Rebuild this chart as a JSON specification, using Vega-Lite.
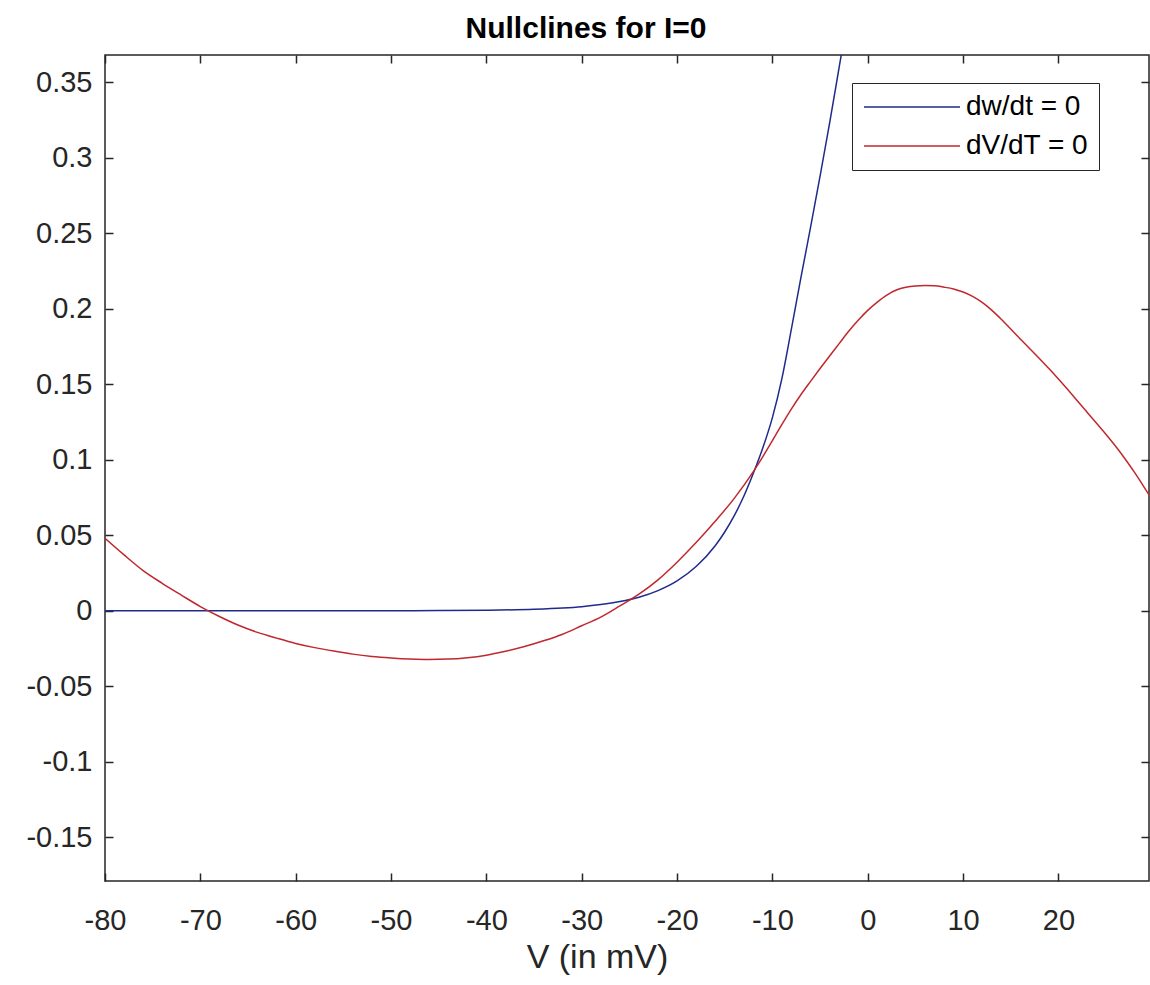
{
  "$schema": "https://vega.github.io/schema/vega-lite/v6.json",
  "width": 1044,
  "height": 826,
  "autosize": "none",
  "padding": {"left": 105, "top": 55, "right": 1, "bottom": 104},
  "background": "white",
  "title": {"text": "Nullclines for I=0", "fontSize": 30, "fontWeight": "bold", "font": "Liberation Sans", "color": "#000000", "anchor": "middle", "dx": -41, "baseline": "alphabetic", "offset": -14},
  "config": {
    "view": {"stroke": "#262626", "strokeWidth": 1.5},
    "axis": {"domain": false, "grid": false, "ticks": true, "tickSize": -8, "tickColor": "#262626", "tickWidth": 1.5, "labelFont": "Liberation Sans", "labelFontSize": 29, "labelColor": "#262626", "labelFlush": false, "titleFont": "Liberation Sans", "titleFontSize": 34, "titleFontWeight": "normal", "titleColor": "#262626"}
  },
  "data": {"values": [
    {"series": "dw/dt = 0", "V": -80, "w": 0},
    {"series": "dw/dt = 0", "V": -75, "w": 0},
    {"series": "dw/dt = 0", "V": -70, "w": 0},
    {"series": "dw/dt = 0", "V": -65, "w": 0},
    {"series": "dw/dt = 0", "V": -60, "w": 0.00001},
    {"series": "dw/dt = 0", "V": -55, "w": 0.00002},
    {"series": "dw/dt = 0", "V": -50, "w": 0.00005},
    {"series": "dw/dt = 0", "V": -45, "w": 0.00014},
    {"series": "dw/dt = 0", "V": -40, "w": 0.00037},
    {"series": "dw/dt = 0", "V": -35, "w": 0.001},
    {"series": "dw/dt = 0", "V": -32, "w": 0.0018},
    {"series": "dw/dt = 0", "V": -30, "w": 0.0027},
    {"series": "dw/dt = 0", "V": -28, "w": 0.0041},
    {"series": "dw/dt = 0", "V": -26, "w": 0.0061},
    {"series": "dw/dt = 0", "V": -24, "w": 0.009},
    {"series": "dw/dt = 0", "V": -22, "w": 0.0134},
    {"series": "dw/dt = 0", "V": -20, "w": 0.0198},
    {"series": "dw/dt = 0", "V": -18, "w": 0.0293},
    {"series": "dw/dt = 0", "V": -16, "w": 0.0431},
    {"series": "dw/dt = 0", "V": -15, "w": 0.0522},
    {"series": "dw/dt = 0", "V": -14, "w": 0.063},
    {"series": "dw/dt = 0", "V": -13, "w": 0.0759},
    {"series": "dw/dt = 0", "V": -12, "w": 0.0911},
    {"series": "dw/dt = 0", "V": -11, "w": 0.108},
    {"series": "dw/dt = 0", "V": -10, "w": 0.128},
    {"series": "dw/dt = 0", "V": -9, "w": 0.154},
    {"series": "dw/dt = 0", "V": -8, "w": 0.187},
    {"series": "dw/dt = 0", "V": -7, "w": 0.221},
    {"series": "dw/dt = 0", "V": -6, "w": 0.254},
    {"series": "dw/dt = 0", "V": -5, "w": 0.288},
    {"series": "dw/dt = 0", "V": -4, "w": 0.323},
    {"series": "dw/dt = 0", "V": -3, "w": 0.36},
    {"series": "dw/dt = 0", "V": -2, "w": 0.397},
    {"series": "dV/dT = 0", "V": -80, "w": 0.048},
    {"series": "dV/dT = 0", "V": -78, "w": 0.037},
    {"series": "dV/dT = 0", "V": -76, "w": 0.0266},
    {"series": "dV/dT = 0", "V": -74, "w": 0.0182},
    {"series": "dV/dT = 0", "V": -72, "w": 0.0104},
    {"series": "dV/dT = 0", "V": -70, "w": 0.0028},
    {"series": "dV/dT = 0", "V": -68, "w": -0.0038},
    {"series": "dV/dT = 0", "V": -66, "w": -0.0096},
    {"series": "dV/dT = 0", "V": -64, "w": -0.0143},
    {"series": "dV/dT = 0", "V": -62, "w": -0.0181},
    {"series": "dV/dT = 0", "V": -60, "w": -0.0216},
    {"series": "dV/dT = 0", "V": -58, "w": -0.0244},
    {"series": "dV/dT = 0", "V": -56, "w": -0.0267},
    {"series": "dV/dT = 0", "V": -54, "w": -0.0287},
    {"series": "dV/dT = 0", "V": -52, "w": -0.0302},
    {"series": "dV/dT = 0", "V": -50, "w": -0.0312},
    {"series": "dV/dT = 0", "V": -48, "w": -0.0319},
    {"series": "dV/dT = 0", "V": -46, "w": -0.0322},
    {"series": "dV/dT = 0", "V": -44, "w": -0.032},
    {"series": "dV/dT = 0", "V": -42, "w": -0.0311},
    {"series": "dV/dT = 0", "V": -40, "w": -0.0294},
    {"series": "dV/dT = 0", "V": -38, "w": -0.0268},
    {"series": "dV/dT = 0", "V": -36, "w": -0.0237},
    {"series": "dV/dT = 0", "V": -34, "w": -0.0199},
    {"series": "dV/dT = 0", "V": -32, "w": -0.0155},
    {"series": "dV/dT = 0", "V": -30, "w": -0.0099},
    {"series": "dV/dT = 0", "V": -28, "w": -0.0042},
    {"series": "dV/dT = 0", "V": -26, "w": 0.0032},
    {"series": "dV/dT = 0", "V": -24, "w": 0.011},
    {"series": "dV/dT = 0", "V": -22, "w": 0.0205},
    {"series": "dV/dT = 0", "V": -20, "w": 0.0322},
    {"series": "dV/dT = 0", "V": -18, "w": 0.0452},
    {"series": "dV/dT = 0", "V": -16, "w": 0.0593},
    {"series": "dV/dT = 0", "V": -14, "w": 0.0745},
    {"series": "dV/dT = 0", "V": -12, "w": 0.0922},
    {"series": "dV/dT = 0", "V": -11, "w": 0.1022},
    {"series": "dV/dT = 0", "V": -10, "w": 0.1128},
    {"series": "dV/dT = 0", "V": -9, "w": 0.1235},
    {"series": "dV/dT = 0", "V": -8, "w": 0.1338},
    {"series": "dV/dT = 0", "V": -7, "w": 0.1433},
    {"series": "dV/dT = 0", "V": -6, "w": 0.152},
    {"series": "dV/dT = 0", "V": -5, "w": 0.1605},
    {"series": "dV/dT = 0", "V": -4, "w": 0.1688},
    {"series": "dV/dT = 0", "V": -3, "w": 0.177},
    {"series": "dV/dT = 0", "V": -2, "w": 0.1852},
    {"series": "dV/dT = 0", "V": -1, "w": 0.1925},
    {"series": "dV/dT = 0", "V": 0, "w": 0.199},
    {"series": "dV/dT = 0", "V": 1, "w": 0.2045},
    {"series": "dV/dT = 0", "V": 2, "w": 0.2092},
    {"series": "dV/dT = 0", "V": 3, "w": 0.2125},
    {"series": "dV/dT = 0", "V": 4, "w": 0.2143},
    {"series": "dV/dT = 0", "V": 5, "w": 0.2152},
    {"series": "dV/dT = 0", "V": 6, "w": 0.2155},
    {"series": "dV/dT = 0", "V": 7, "w": 0.2153},
    {"series": "dV/dT = 0", "V": 8, "w": 0.2144},
    {"series": "dV/dT = 0", "V": 9, "w": 0.2132},
    {"series": "dV/dT = 0", "V": 10, "w": 0.2112},
    {"series": "dV/dT = 0", "V": 11, "w": 0.2083},
    {"series": "dV/dT = 0", "V": 12, "w": 0.2043},
    {"series": "dV/dT = 0", "V": 13, "w": 0.1992},
    {"series": "dV/dT = 0", "V": 14, "w": 0.1932},
    {"series": "dV/dT = 0", "V": 15, "w": 0.1867},
    {"series": "dV/dT = 0", "V": 16, "w": 0.1801},
    {"series": "dV/dT = 0", "V": 17, "w": 0.1736},
    {"series": "dV/dT = 0", "V": 18, "w": 0.1671},
    {"series": "dV/dT = 0", "V": 19, "w": 0.1605},
    {"series": "dV/dT = 0", "V": 20, "w": 0.1536},
    {"series": "dV/dT = 0", "V": 21, "w": 0.1464},
    {"series": "dV/dT = 0", "V": 22, "w": 0.139},
    {"series": "dV/dT = 0", "V": 23, "w": 0.1316},
    {"series": "dV/dT = 0", "V": 24, "w": 0.1242},
    {"series": "dV/dT = 0", "V": 25, "w": 0.1168},
    {"series": "dV/dT = 0", "V": 26, "w": 0.109},
    {"series": "dV/dT = 0", "V": 27, "w": 0.1006},
    {"series": "dV/dT = 0", "V": 28, "w": 0.0915},
    {"series": "dV/dT = 0", "V": 29, "w": 0.0818},
    {"series": "dV/dT = 0", "V": 29.5, "w": 0.0768}
  ]},
  "resolve": {"axis": {"x": "independent", "y": "independent"}},
  "layer": [
    {
      "mark": {"type": "line", "clip": true, "strokeWidth": 1.5, "interpolate": "monotone"},
      "encoding": {
        "x": {"field": "V", "type": "quantitative", "scale": {"domain": [-80, 29.5], "nice": false, "zero": false},
              "axis": {"orient": "bottom", "values": [-80, -70, -60, -50, -40, -30, -20, -10, 0, 10, 20], "labelExpr": "'' + datum.value", "labelPadding": 33, "title": "V (in mV)", "titleX": 492, "titleY": 86, "titleAlign": "center", "titleBaseline": "alphabetic"}},
        "y": {"field": "w", "type": "quantitative", "scale": {"domain": [-0.179, 0.3682], "nice": false, "zero": false},
              "axis": {"orient": "left", "values": [-0.15, -0.1, -0.05, 0, 0.05, 0.1, 0.15, 0.2, 0.25, 0.3, 0.35], "labelExpr": "'' + datum.value", "labelPadding": 21, "title": null}},
        "color": {"field": "series", "type": "nominal", "scale": {"domain": ["dw/dt = 0", "dV/dT = 0"], "range": ["#1f2a8c", "#c0282d"]},
                  "legend": {"orient": "none", "legendX": 747, "legendY": 28, "title": null, "strokeColor": "#262626", "fillColor": "white", "padding": 10, "symbolType": "M-1,0L7,0", "symbolSize": 576, "symbolStrokeWidth": 1.5, "labelFontSize": 28, "labelFont": "Liberation Sans", "labelColor": "#000000", "labelOffset": 76, "rowPadding": 11}}
      }
    },
    {
      "mark": {"type": "line", "clip": true, "opacity": 0},
      "encoding": {
        "x": {"field": "V", "type": "quantitative", "axis": {"orient": "top", "values": [-80, -70, -60, -50, -40, -30, -20, -10, 0, 10, 20], "labels": false, "title": null}},
        "y": {"field": "w", "type": "quantitative", "axis": {"orient": "right", "values": [-0.15, -0.1, -0.05, 0, 0.05, 0.1, 0.15, 0.2, 0.25, 0.3, 0.35], "labels": false, "title": null}},
        "detail": {"field": "series"}
      }
    }
  ]
}
